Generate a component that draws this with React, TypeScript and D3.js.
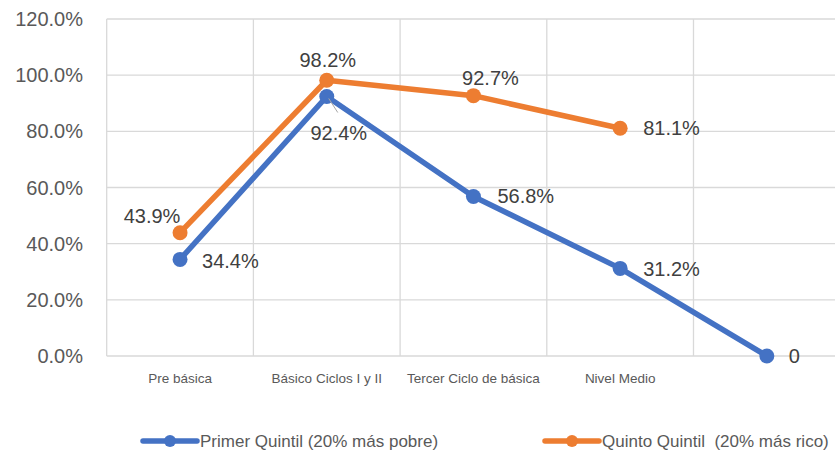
import React from "react";
import * as d3 from "d3";

const categories = ["Pre básica", "Básico Ciclos I y II", "Tercer Ciclo de básica", "Nivel Medio", ""];
const primerQuintil: (number | null)[] = [34.4, 92.4, 56.8, 31.2, 0];
const quintoQuintil: (number | null)[] = [43.9, 98.2, 92.7, 81.1, null];
const primerLabels = ["34.4%", "92.4%", "56.8%", "31.2%", "0"];
const quintoLabels = ["43.9%", "98.2%", "92.7%", "81.1%", ""];
const yTicks = [0, 20, 40, 60, 80, 100, 120];
const seriesNames = ["Primer Quintil (20% más pobre)", "Quinto Quintil  (20% más rico)"];

// label placement (offset from the point), kept apart from the data
const primerPlace = [
  { dx: 22, dy: 2, anchor: "start" },
  { dx: 12, dy: 36, anchor: "middle" },
  { dx: 24, dy: 0, anchor: "start" },
  { dx: 23, dy: 1, anchor: "start" },
  { dx: 22, dy: 0, anchor: "start" },
];
const quintoPlace = [
  { dx: -28, dy: -17, anchor: "middle" },
  { dx: 1, dy: -20, anchor: "middle" },
  { dx: 17, dy: -18, anchor: "middle" },
  { dx: 23, dy: 0, anchor: "start" },
  { dx: 0, dy: 0, anchor: "start" },
];

const W = 835;
const H = 458;
const LEFT = 106.7;
const TOP = 19;
const BOTTOM = 356;
const BLUE = "#4472C4";
const ORANGE = "#ED7D31";
const GRID = "#d9d9d9";
const FONT = "'Liberation Sans', Arial, sans-serif";

const App = () => {
  const x = d3.scaleBand().domain(categories.map((c, i) => String(i))).range([LEFT, LEFT + 5 * 146.7]);
  const cx = (i: number) => (x(String(i)) as number) + x.bandwidth() / 2;
  const y = d3.scaleLinear().domain([0, 120]).range([BOTTOM, TOP]);

  const line = d3
    .line<number | null>()
    .defined((d) => d !== null)
    .x((d, i) => cx(i))
    .y((d) => y(d as number));

  const series = [
    { name: seriesNames[0], values: primerQuintil, labels: primerLabels, place: primerPlace, color: BLUE },
    { name: seriesNames[1], values: quintoQuintil, labels: quintoLabels, place: quintoPlace, color: ORANGE },
  ];

  const bandEdges = d3.range(categories.length + 1).map((i) => LEFT + i * x.bandwidth());

  return (
    <svg width={W} height={H} style={{ position: "absolute", left: 0, top: 0, background: "#fff" }} fontFamily={FONT}>
      {/* gridlines */}
      {yTicks.map((t) => (
        <line key={"h" + t} x1={LEFT} x2={W} y1={y(t)} y2={y(t)} stroke={GRID} strokeWidth={1.3} />
      ))}
      {bandEdges.map((e, i) => (
        <line key={"v" + i} x1={e} x2={e} y1={TOP} y2={BOTTOM} stroke={GRID} strokeWidth={1.3} />
      ))}
      {/* y tick labels */}
      {yTicks.map((t) => (
        <text key={"yt" + t} x={83} y={y(t)} textAnchor="end" dominantBaseline="central" fontSize={20} fill="#595959">
          {d3.format(".1f")(t) + "%"}
        </text>
      ))}
      {/* x labels */}
      {categories.map((c, i) => (
        <text key={"xl" + i} x={cx(i)} y={378} textAnchor="middle" dominantBaseline="central" fontSize={13.5} fill="#595959">
          {c}
        </text>
      ))}
      {/* series */}
      {series.map((s) => (
        <g key={s.name}>
          <path d={line(s.values) || ""} fill="none" stroke={s.color} strokeWidth={5.5} strokeLinejoin="round" />
          {s.values.map((v, i) =>
            v === null ? null : <circle key={i} cx={cx(i)} cy={y(v)} r={7.5} fill={s.color} />
          )}
        </g>
      ))}
      {/* leader line for 92.4% */}
      <line x1={cx(1) + 2} y1={y(primerQuintil[1] as number) + 2} x2={cx(1) + 11} y2={y(primerQuintil[1] as number) + 16} stroke="#a6a6a6" strokeWidth={1} />
      {/* data labels */}
      {series.map((s) =>
        s.values.map((v, i) =>
          v === null ? null : (
            <text
              key={s.name + "l" + i}
              x={cx(i) + s.place[i].dx}
              y={y(v) + s.place[i].dy}
              textAnchor={s.place[i].anchor as any}
              dominantBaseline="central"
              fontSize={20}
              fill="#404040"
            >
              {s.labels[i]}
            </text>
          )
        )
      )}
      {/* legend */}
      {series.map((s, i) => {
        const lx = i === 0 ? 143 : 545;
        return (
          <g key={"lg" + i}>
            <line x1={lx} x2={lx + 54} y1={441} y2={441} stroke={s.color} strokeWidth={5.5} strokeLinecap="round" />
            <circle cx={lx + 27} cy={441} r={6} fill={s.color} />
            <text x={lx + 57} y={441} dominantBaseline="central" fontSize={17} fill="#595959" style={{ whiteSpace: "pre" }}>
              {s.name}
            </text>
          </g>
        );
      })}
    </svg>
  );
};

export default App;
